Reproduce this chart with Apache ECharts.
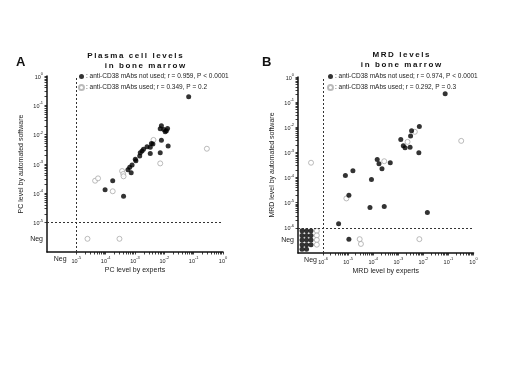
<!DOCTYPE html>
<html>
<head>
<meta charset="utf-8">
<script src="https://cdn.jsdelivr.net/npm/echarts@6/dist/echarts.min.js"></script>
<style>
html, body { margin: 0; padding: 0; background: #fff; }
#main { width: 520px; height: 368px; }
</style>
</head>
<body>
<div id="main"></div>
<script>
// all values are log10 of the level; "Neg" is drawn in the band below the lowest decade
var negA = -5.55;
var negB = -6.5;

// panel A : plasma cell levels (x = experts, y = automated software)
var aNotUsed = [
  [-1.17, -0.71], [-2.10, -1.70], [-2.02, -1.82], [-1.97, -1.90], [-1.89, -1.79],
  [-1.93, -1.87], [-2.14, -1.80], [-2.10, -2.19], [-1.87, -2.39], [-2.14, -2.62],
  [-2.44, -2.30], [-2.39, -2.32], [-2.48, -2.43], [-2.59, -2.41], [-2.71, -2.50],
  [-2.76, -2.56], [-2.82, -2.62], [-2.84, -2.73], [-2.99, -2.84], [-2.97, -2.89],
  [-2.48, -2.64], [-3.10, -3.03], [-3.18, -3.11], [-3.24, -3.20], [-3.13, -3.30],
  [-3.76, -3.57], [-4.02, -3.88], [-3.39, -4.10]
];
var aUsed = [
  [-0.55, -2.48], [-2.14, -2.98], [-2.37, -2.18], [-3.44, -3.24], [-3.40, -3.34],
  [-3.39, -3.42], [-4.36, -3.57], [-4.26, -3.49], [-3.76, -3.93],
  [-4.62, negA], [-3.53, negA]
];

// panel B : MRD levels
var bNotUsed = [
  [-1.13, -0.67], [-2.16, -1.97], [-2.47, -2.14], [-2.51, -2.35], [-2.90, -2.49],
  [-2.80, -2.73], [-2.73, -2.81], [-2.53, -2.79], [-2.18, -3.01], [-3.84, -3.28],
  [-3.77, -3.45], [-3.65, -3.65], [-3.32, -3.41], [-4.07, -4.08], [-4.81, -3.73],
  [-5.11, -3.92], [-4.97, -4.70], [-4.13, -5.19], [-3.56, -5.15], [-1.84, -5.39],
  [-5.38, -5.84], [-4.97, -6.45],
  // Neg / Neg
  [-6.84, -6.12], [-6.66, -6.12], [-6.48, -6.12],
  [-6.84, -6.30], [-6.66, -6.30], [-6.48, -6.30],
  [-6.84, -6.48], [-6.66, -6.48], [-6.48, -6.48],
  [-6.84, -6.67], [-6.66, -6.67], [-6.48, -6.67],
  [-6.84, -6.85], [-6.66, -6.85]
];
var bUsed = [
  [-0.49, -2.54], [-2.34, -2.18], [-2.63, -2.58], [-3.56, -3.35], [-6.48, -3.41],
  [-5.07, -4.83], [-4.54, -6.45], [-4.49, -6.64], [-2.16, -6.45],
  // Neg / Neg
  [-6.25, -6.12], [-6.25, -6.30], [-6.25, -6.48], [-6.25, -6.67]
];

var legendA = [': anti-CD38 mAbs not used; r = 0.959, P < 0.0001', ': anti-CD38 mAbs used; r = 0.349, P = 0.2'];
var legendB = [': anti-CD38 mAbs not used; r = 0.974, P < 0.0001', ': anti-CD38 mAbs used; r = 0.292, P = 0.3'];

var myChart = echarts.init(document.getElementById('main'));

function decades(lo) {
  var out = [];
  for (var d = lo; d <= 0; d++) out.push(d);
  return out;
}
// decade ticks plus the 2..9 log minor ticks
function logTicks(lo) {
  var out = decades(lo);
  for (var d = lo; d < 0; d++) {
    for (var k = 2; k <= 9; k++) out.push(d + Math.log10(k));
  }
  return out;
}
function labelFmt(neg) {
  return function (v) {
    if (Math.abs(v - neg) < 0.01) return '{n|Neg}';
    return '{b|10}{s|' + (v === 0 ? '0' : '-' + (-v)) + '}';
  };
}
var rich = {
  n: { fontSize: 7, color: '#222', fontFamily: 'Liberation Sans' },
  b: { fontSize: 5.5, color: '#222', fontFamily: 'Liberation Sans', verticalAlign: 'bottom', lineHeight: 8 },
  s: { fontSize: 4, color: '#222', fontFamily: 'Liberation Sans', verticalAlign: 'top', lineHeight: 8 }
};

function mainAxis(dim, grid, min, neg, name, gap) {
  return {
    type: 'value', gridIndex: grid, min: min, max: 0,
    position: dim === 'x' ? 'bottom' : 'left',
    name: name, nameLocation: 'middle', nameGap: gap,
    nameTextStyle: { fontSize: 7, color: '#222', fontFamily: 'Liberation Sans' },
    splitLine: { show: false },
    axisLine: { show: true, onZero: false, lineStyle: { color: '#111', width: 1.5 } },
    axisTick: { show: true, length: 2.5, lineStyle: { color: '#111', width: 0.8 }, customValues: logTicks(min + 1) },
    axisLabel: { show: true, margin: 4, formatter: labelFmt(neg), rich: rich, customValues: [neg].concat(decades(min + 1)) }
  };
}

var dotted = { type: [2, 2], color: '#333', width: 1 };
function refLines(v) {
  return {
    silent: true, symbol: 'none', label: { show: false },
    lineStyle: dotted,
    data: [{ xAxis: v }, { yAxis: v }]
  };
}
var filledStyle = { color: '#000' };
var openStyle = { color: '#fff', borderColor: '#aaa', borderWidth: 1 };

function legendBox(names, texts, left) {
  return {
    data: names, orient: 'vertical', left: left, top: 73, padding: 0,
    itemWidth: 5, itemHeight: 5, itemGap: 4, icon: 'circle',
    textStyle: { fontSize: 6.5, color: '#222', fontFamily: 'Liberation Sans', padding: [0, 0, 0, -3] },
    formatter: function (n) { return n === names[0] ? texts[0] : texts[1]; }
  };
}

option = {
  animation: false,
  backgroundColor: '#fff',
  textStyle: { fontFamily: 'Liberation Sans' },
  grid: [
    { left: 47, top: 76, width: 176, height: 176 },
    { left: 298, top: 77, width: 175.5, height: 176 }
  ],
  xAxis: [
    mainAxis('x', 0, -6, negA, 'PC level by experts', 15),
    mainAxis('x', 1, -7, negB, 'MRD level by experts', 15)
  ],
  yAxis: [
    mainAxis('y', 0, -6, negA, 'PC level by automated software', 22),
    mainAxis('y', 1, -7, negB, 'MRD level by automated software', 22)
  ],
  legend: [
    legendBox(['A not used', 'A used'], legendA, 78),
    legendBox(['B not used', 'B used'], legendB, 327)
  ],
  graphic: [
    { type: 'text', left: 16, top: 56, style: { text: 'A', fontSize: 13, fontWeight: 'bold', fill: '#111', fontFamily: 'Liberation Sans' } },
    { type: 'text', left: 262, top: 56, style: { text: 'B', fontSize: 13, fontWeight: 'bold', fill: '#111', fontFamily: 'Liberation Sans' } },
    { type: 'text', x: 135, y: 56, style: { text: 'P\u2009l\u2009a\u2009s\u2009m\u2009a\u2009 \u2009c\u2009e\u2009l\u2009l\u2009 \u2009l\u2009e\u2009v\u2009e\u2009l\u2009s', fontSize: 8, fontWeight: 'bold', fill: '#111', align: 'center', verticalAlign: 'middle', fontFamily: 'Liberation Sans' } },
    { type: 'text', x: 145, y: 66, style: { text: 'i\u2009n\u2009 \u2009b\u2009o\u2009n\u2009e\u2009 \u2009m\u2009a\u2009r\u2009r\u2009o\u2009w', fontSize: 8, fontWeight: 'bold', fill: '#111', align: 'center', verticalAlign: 'middle', fontFamily: 'Liberation Sans' } },
    { type: 'text', x: 401, y: 55, style: { text: 'M\u2009R\u2009D\u2009 \u2009l\u2009e\u2009v\u2009e\u2009l\u2009s', fontSize: 8, fontWeight: 'bold', fill: '#111', align: 'center', verticalAlign: 'middle', fontFamily: 'Liberation Sans' } },
    { type: 'text', x: 401, y: 65, style: { text: 'i\u2009n\u2009 \u2009b\u2009o\u2009n\u2009e\u2009 \u2009m\u2009a\u2009r\u2009r\u2009o\u2009w', fontSize: 8, fontWeight: 'bold', fill: '#111', align: 'center', verticalAlign: 'middle', fontFamily: 'Liberation Sans' } }
  ],
  series: [
    { name: 'A not used', type: 'scatter', xAxisIndex: 0, yAxisIndex: 0, symbolSize: 5, itemStyle: filledStyle, data: aNotUsed, markLine: refLines(-5), z: 3 },
    { name: 'A used', type: 'scatter', xAxisIndex: 0, yAxisIndex: 0, symbolSize: 5, itemStyle: openStyle, data: aUsed, z: 2 },
    { name: 'B not used', type: 'scatter', xAxisIndex: 1, yAxisIndex: 1, symbolSize: 5, itemStyle: filledStyle, data: bNotUsed, markLine: refLines(-6), z: 3 },
    { name: 'B used', type: 'scatter', xAxisIndex: 1, yAxisIndex: 1, symbolSize: 5, itemStyle: openStyle, data: bUsed, z: 2 }
  ]
};

myChart.setOption(option);
</script>
</body>
</html>
